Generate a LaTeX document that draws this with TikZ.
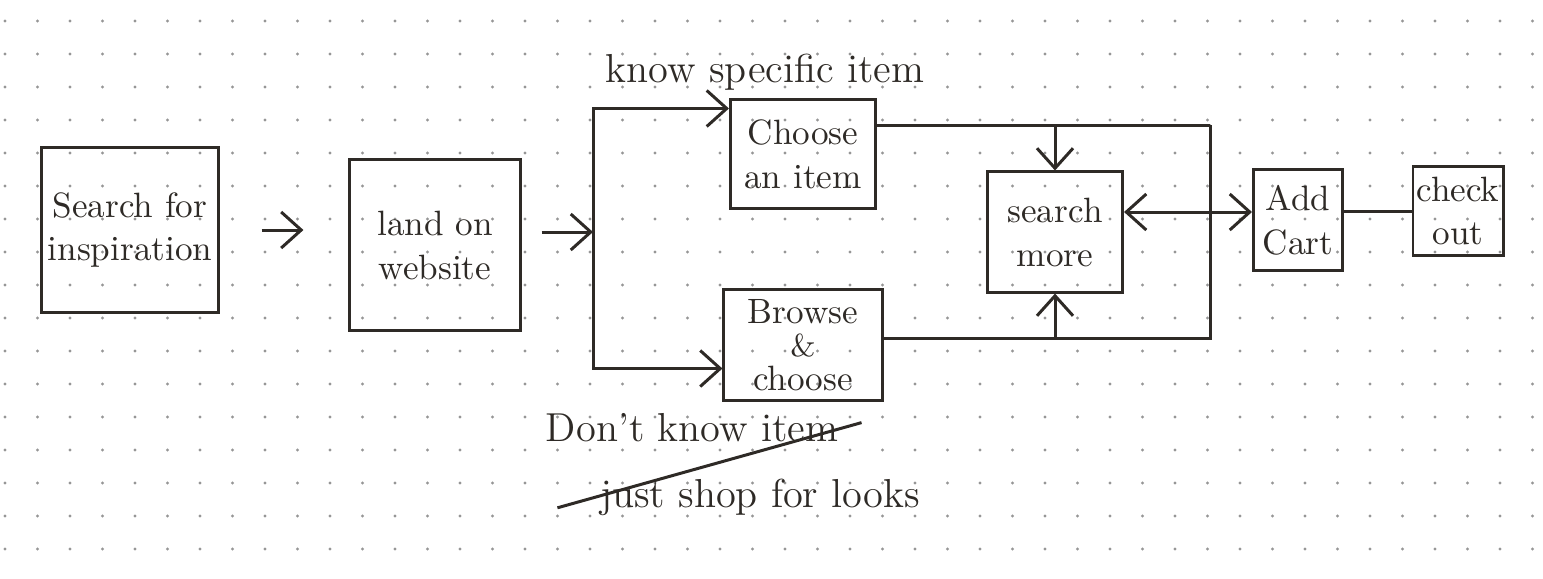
\documentclass[tikz,border=0pt]{standalone}
\usepackage{tikz}
\usetikzlibrary{arrows.meta, positioning, calc}

\definecolor{pen}{RGB}{46,42,38}
\definecolor{paperdot}{RGB}{150,150,150}

\begin{document}
\begin{tikzpicture}[
        x=0.01cm, y=-0.01cm,
        font=\fontsize{11.5}{14}\selectfont,
        stepbox/.style={rectangle, draw=pen, line width=0.85pt, fill=none, align=center, text=pen, inner sep=1pt, font=\fontsize{10}{12.5}\selectfont},
        note/.style={text=pen, inner sep=1pt},
        arrow/.style={-{Straight Barb[length=2mm, width=3.6mm]}, line width=0.85pt, pen},
        twoway/.style={{Straight Barb[length=2mm, width=3.6mm]}-{Straight Barb[length=2mm, width=3.6mm]}, line width=0.85pt, pen},
        link/.style={line width=0.85pt, pen}
    ]

        \useasboundingbox (0,0) rectangle (1543,578);

        % Dotted paper
        \foreach \i in {0,...,47} {
            \foreach \j in {0,...,17} {
                \fill[paperdot] (5+32.5*\i, 21+33*\j) circle (0.45pt);
            }
        }

        % Search for inspiration
        \node[stepbox, minimum width=1.76cm, minimum height=1.65cm] (search) at (130,230) {Search for\\inspiration};

        % Land on website
        \node[stepbox, minimum width=1.70cm, minimum height=1.70cm] (land) at (435,245) {land on\\website};

        % Choose an item
        \node[stepbox, minimum width=1.45cm, minimum height=1.08cm] (choose) at (803,154) {Choose\\an item};

        % Browse & choose
        \node[stepbox, minimum width=1.58cm, minimum height=1.10cm] (browse) at (803,345) {Browse\\[-3pt]{\small\&}\\[-3pt]choose};

        % Search more
        \node[stepbox, minimum width=1.35cm, minimum height=1.20cm] (more) at (1055,232) {search\\more};

        % Add cart
        \node[stepbox, minimum width=0.89cm, minimum height=1.00cm] (cart) at (1298,220) {Add\\Cart};

        % Check out
        \node[stepbox, minimum width=0.90cm, minimum height=0.88cm] (checkout) at (1458,211) {check\\out};

        % Labels
        \node[note] (know) at (765,72) {know specific item};
        \node[note] (dontknow) at (692,428) {Don't know item};
        \node[note] (shop) at (760,497) {just shop for looks};
        \draw[link, shorten <=-0.4cm, shorten >=-0.2cm] (shop.west) -- (dontknow.east);

        % Corner points
        \coordinate (split) at (593,232);
        \coordinate (tr) at (1210,125);
        \coordinate (br) at (1210,338);
        \coordinate (moreout) at ($(more.east)+(0,-20)$);

        % Arrows
        \draw[arrow, shorten <=0.42cm, shorten >=0.45cm] (search.east) -- (search.east -| land.west);
        \draw[arrow, shorten <=0.2cm] (land.east |- split) -- (split);
        \draw[link] (split) -- ++(0,-122);
        \draw[arrow] (split) |- ($(choose.north west)+(0,10)$);
        \draw[arrow] (split) |- ($(browse.south west)+(0,-33)$);

        % Loop round search more
        \draw[link] ($(choose.north east)+(0,27)$) -| (tr) -- (br) -- (br -| browse.east);
        \draw[arrow] (more.north |- tr) -- (more.north);
        \draw[arrow] (more.south |- br) -- (more.south);

        % Search more <-> Add cart
        \draw[twoway] (moreout) -- (moreout -| cart.west);

        % Add cart -- check out
        \draw[link] (checkout.west -| cart.east) -- (checkout.west);

    \end{tikzpicture}
\end{document}
